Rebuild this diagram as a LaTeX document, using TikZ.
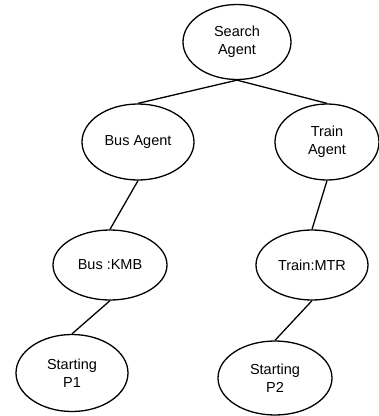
\documentclass[tikz,border=0pt]{standalone}
\usepackage{fontspec}
\setmainfont{Liberation Sans}
\usetikzlibrary{shapes.geometric}
\def\ewidth{112pt}
\def\eheight{75pt}
\tikzset{agent/.style={ellipse,draw,line width=1.3pt,minimum width=\ewidth,minimum height=\eheight,inner sep=0pt,align=center,font=\fontsize{14.5}{18}\selectfont},
	link/.style={line width=1.3pt}}
\begin{document}
\begin{tikzpicture}[x=1pt,y=-1pt]
\useasboundingbox (0,0) rectangle (379,416);
\node[agent,minimum width=108pt] (Search) at (237,42) {Search\\Agent};
\node[agent,minimum height=76pt] (Bus) at (138,142) {Bus Agent};
\node[agent,minimum width=104pt,minimum height=76pt] (Train) at (327,142) {Train\\Agent};
\node[agent,minimum width=114pt,minimum height=70pt] (KMB) at (110,265) {Bus :KMB};
\node[agent,minimum height=70pt] (MTR) at (312,265) {Train:MTR};
\node[agent,minimum height=77pt] (P1) at (72,373) {Starting\\P1};
\node[agent,minimum width=114pt,minimum height=74pt] (P2) at (275,378) {Starting\\P2};

\draw[link] (Search.south) -- (Bus.north);
\draw[link] (Search.south) -- (Train.north);
\draw[link] (Bus.south) -- (KMB.north);
\draw[link] (Train.south) -- (MTR.north);
\draw[link] (KMB.south) -- (P1.north);
\draw[link] (MTR.south) -- (P2.north);
\end{tikzpicture}
\end{document}
